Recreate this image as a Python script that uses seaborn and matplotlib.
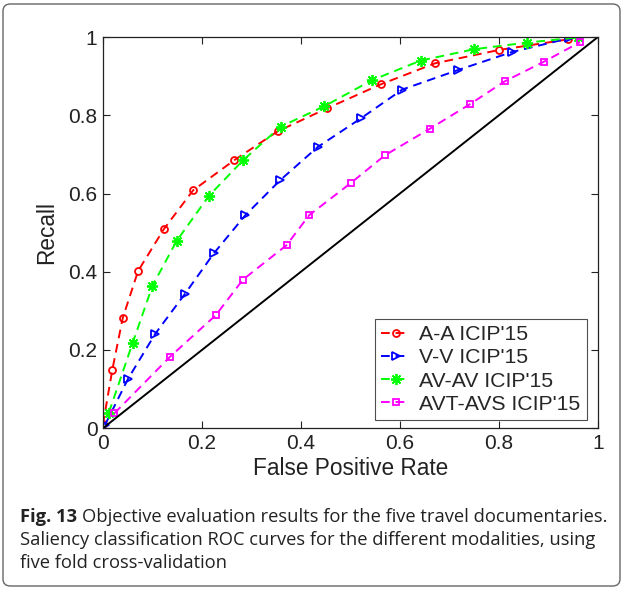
import numpy as np
import pandas as pd
import matplotlib
matplotlib.use("Agg")
import matplotlib.pyplot as plt
import seaborn as sns
from matplotlib.patches import FancyBboxPatch

# ------------------ Data ------------------
aa_fpr = [0.0, 0.019, 0.04, 0.071, 0.123, 0.182, 0.265, 0.353, 0.453, 0.561, 0.671, 0.80, 0.939]
aa_rec = [0.01, 0.15, 0.282, 0.402, 0.509, 0.608, 0.685, 0.759, 0.818, 0.879, 0.933, 0.967, 0.994]

vv_fpr = [0.004, 0.051, 0.106, 0.166, 0.224, 0.288, 0.358, 0.434, 0.521, 0.605, 0.718, 0.827, 0.942]
vv_rec = [0.008, 0.127, 0.242, 0.344, 0.447, 0.545, 0.634, 0.719, 0.792, 0.866, 0.916, 0.962, 0.997]

av_fpr = [0.012, 0.06, 0.10, 0.149, 0.214, 0.283, 0.359, 0.447, 0.544, 0.642, 0.75, 0.857, 0.959]
av_rec = [0.04, 0.218, 0.364, 0.479, 0.594, 0.685, 0.771, 0.823, 0.890, 0.94, 0.969, 0.986, 0.999]

avt_fpr = [0.023, 0.135, 0.228, 0.283, 0.371, 0.417, 0.501, 0.570, 0.661, 0.741, 0.812, 0.891, 0.964]
avt_rec = [0.038, 0.182, 0.289, 0.380, 0.468, 0.545, 0.627, 0.698, 0.766, 0.828, 0.887, 0.937, 0.987]

labels = ["A-A ICIP'15", "V-V ICIP'15", "AV-AV ICIP'15", "AVT-AVS ICIP'15"]
colors = ["#ff0000", "#0000ff", "#00ff00", "#ff00ff"]
markers = ["o", ">", (8, 2, 0), "s"]
marker_sizes = [5, 6, 8, 4.5]

ticks = [0, 0.2, 0.4, 0.6, 0.8, 1]
tick_labels = ['0', '0.2', '0.4', '0.6', '0.8', '1']

caption_bold = "Fig. 13"
caption_lines = ["Objective evaluation results for the five travel documentaries.",
                 "Saliency classification ROC curves for the different modalities, using",
                 "five fold cross-validation"]

# ------------------ Plot ------------------
sns.set_style("ticks")
plt.rcParams['font.family'] = ['Liberation Sans', 'DejaVu Sans']

fig = plt.figure(figsize=(6.24, 5.89), dpi=100)
ax = fig.add_axes([0.165, 0.273, 0.793, 0.664])

series = [(aa_fpr, aa_rec), (vv_fpr, vv_rec), (av_fpr, av_rec), (avt_fpr, avt_rec)]
for (xs, ys), lab, col, mk, ms in zip(series, labels, colors, markers, marker_sizes):
    df = pd.DataFrame({'fpr': xs, 'recall': ys})
    sns.lineplot(data=df, x='fpr', y='recall', ax=ax, color=col, label=lab,
                 linestyle=(0, (4.5, 3)), linewidth=1.4, marker=mk, markersize=ms,
                 markerfacecolor='none', markeredgecolor=col, markeredgewidth=1.3)

# chance line
diag = pd.DataFrame({'fpr': [0, 1], 'recall': [0, 1]})
sns.lineplot(data=diag, x='fpr', y='recall', ax=ax, color='black', linewidth=1.4)

ax.set_xlim(0, 1)
ax.set_ylim(0, 1)
ax.set_xticks(ticks)
ax.set_yticks(ticks)
ax.set_xticklabels(tick_labels)
ax.set_yticklabels(tick_labels)
ax.tick_params(direction='in', top=True, right=True, labelsize=15, length=5,
               width=0.8, colors='#222222', pad=4)
for sp in ax.spines.values():
    sp.set_color('#222222')
    sp.set_linewidth(0.9)
ax.set_xlabel('False Positive Rate', fontsize=16.3, color='#222222', labelpad=3)
ax.set_ylabel('Recall', fontsize=16.3, color='#222222', labelpad=7)

leg = ax.legend(loc='lower right', bbox_to_anchor=(0.978, 0.0205), borderaxespad=0,
                fontsize=15.3, frameon=True, fancybox=False,
                edgecolor='#222222', handlelength=1.36, handletextpad=0.42,
                borderpad=0.3, labelspacing=0.2)
leg.get_frame().set_linewidth(0.8)

# caption: bold figure number followed by regular text
cap_font = ['Open Sans', 'DejaVu Sans']
cap_size = 13.2
t_bold = fig.text(20 / 624, 1 - 517 / 589, caption_bold, fontsize=cap_size, fontweight='bold',
                  family=cap_font, va='center', ha='left', color='#222222')
fig.canvas.draw()
bb = t_bold.get_window_extent()
fig.text((bb.x1 + 5) / 624, 1 - 517 / 589, caption_lines[0], fontsize=cap_size,
         family=cap_font, va='center', ha='left', color='#222222')
fig.text(20 / 624, 1 - 540 / 589, caption_lines[1], fontsize=cap_size,
         family=cap_font, va='center', ha='left', color='#222222')
fig.text(20 / 624, 1 - 563 / 589, caption_lines[2], fontsize=cap_size,
         family=cap_font, va='center', ha='left', color='#222222')

# rounded frame around figure + caption
frame = FancyBboxPatch((3 / 624, 3 / 589), 617 / 624, 582 / 589,
                       boxstyle="round,pad=0,rounding_size=0.012",
                       transform=fig.transFigure, facecolor='none',
                       edgecolor='#666666', linewidth=1.0)
fig.patches.append(frame)

fig.savefig('out.png', dpi=100)
